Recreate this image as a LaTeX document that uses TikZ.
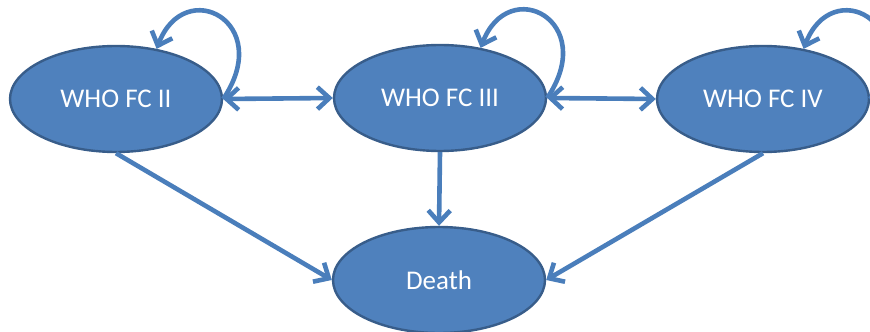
\documentclass[tikz,border=0pt]{standalone}
\usepackage{tikz}
\usepackage{fontspec}
\setmainfont{Carlito}
\usetikzlibrary{shapes.geometric,arrows.meta}
\definecolor{fcfill}{HTML}{4F81BD}
\definecolor{fcborder}{HTML}{385D8A}
\definecolor{fclink}{HTML}{4A7EBB}

\begin{document}
\begin{tikzpicture}[x=0.5pt,y=-0.5pt,
	state/.style={ellipse,draw=fcborder,fill=fcfill,line width=1.2pt,inner sep=0pt,
		minimum width=106pt,minimum height=53pt,text=white,font=\fontsize{13.5}{15}\selectfont},
	link/.style={fclink,line width=2.3pt,-{Straight Barb[length=6pt,width=11pt,line width=2.3pt]}},
	twoway/.style={link,{Straight Barb[length=6pt,width=11pt,line width=2.3pt]}-{Straight Barb[length=6pt,width=11pt,line width=2.3pt]}}]
	    \useasboundingbox (0,0) rectangle (870,331);
	    \node[state] (fcii) at (116,99) {WHO FC II};
	    \node[state] (fciii) at (440,98) {WHO FC III};
	    \node[state] (fciv) at (763,99) {WHO FC IV};
	    \node[state] (death) at (439,280) {Death};
	    \draw[twoway] (fcii.east) -- (fciii.west);
	    \draw[twoway] (fciii.east) -- (fciv.west);
	    \draw[link] (fcii.east) .. controls +(52,-77) and +(28,-74) .. (fcii.51);
	    \draw[link] (fciii.east) .. controls +(52,-77) and +(28,-74) .. (fciii.51);
	    \draw[link] (fciv.east) .. controls +(52,-77) and +(28,-74) .. (fciv.51);
	    \draw[link] (fcii.south) -- (death.west);
	    \draw[link] (fciii.south) -- (death.north);
	    \draw[link] (fciv.south) -- (death.east);
	\end{tikzpicture}
\end{document}
